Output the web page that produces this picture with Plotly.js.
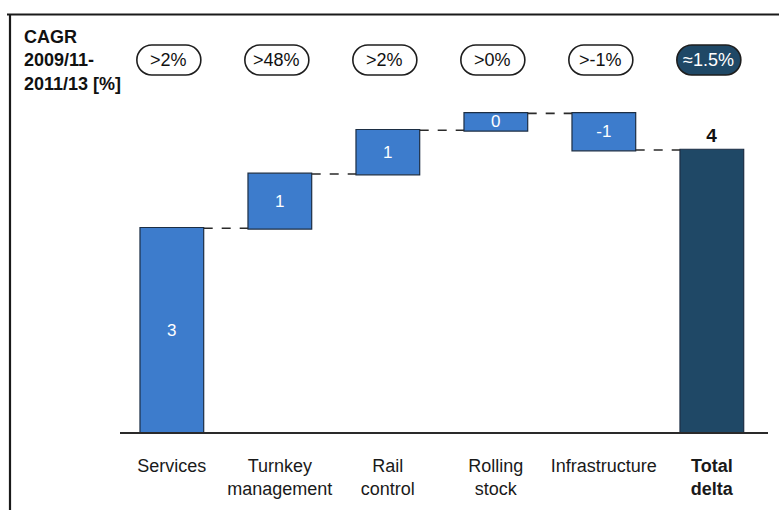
<!DOCTYPE html>
<html>
<head>
<meta charset="utf-8">
<script src="https://cdn.plot.ly/plotly-3.0.1.min.js"></script>
<style>html,body{margin:0;padding:0;background:#fff;}#chart{width:779px;height:510px;}</style>
</head>
<body>
<div id="chart"></div>
<script>
// ---- data ----
var categories = ["Services", "Turnkey<br>management", "Rail<br>control", "Rolling<br>stock", "Infrastructure", "<b>Total<br>delta</b>"];
var measures = ["relative", "relative", "relative", "relative", "relative", "total"];
var values = [2.89, 0.77, 0.62, 0.24, -0.52, 0];
var barLabels = ["3", "1", "1", "0", "-1", "4"];
var cagrLabels = [">2%", ">48%", ">2%", ">0%", ">-1%", "\u22481.5%"];
var cagrTitle = "<b>CAGR<br>2009/11-<br>2011/13 [%]</b>";

// ---- layout geometry ----
var W = 779, H = 510;
var M = {l: 120, r: 11, t: 100, b: 78};
var xRange = [-0.48, 5.52];
var yRange = [0, 4.71];
var plotW = W - M.l - M.r, plotH = H - M.t - M.b;
function pxX(px) { return (px - M.l) / plotW; }
function pxY(py) { return (H - M.b - py) / plotH; }
function catPaper(i) { return (i - xRange[0]) / (xRange[1] - xRange[0]); }

var FONT = "Liberation Sans Narrow, Arial Narrow, Liberation Sans, Arial, sans-serif";
var BLUE = "#3d7ccc", NAVY = "#1f4866", EDGE = "#1c2e44";

var trace = {
  type: "waterfall",
  x: categories,
  y: values,
  measure: measures,
  text: barLabels,
  textinfo: "text",
  textangle: 0,
  textposition: ["inside", "inside", "inside", "inside", "inside", "outside"],
  constraintext: "none",
  insidetextanchor: "middle",
  insidetextfont: {family: FONT, size: 17, color: "#ffffff"},
  outsidetextfont: {family: FONT, size: 19, color: "#111111", weight: "bold"},
  cliponaxis: false,
  increasing: {marker: {color: BLUE, line: {color: EDGE, width: 1.2}}},
  decreasing: {marker: {color: BLUE, line: {color: EDGE, width: 1.2}}},
  totals: {marker: {color: NAVY, line: {color: EDGE, width: 1.2}}},
  connector: {mode: "between", line: {color: "#2a2a2a", width: 1.6, dash: "dash"}},
  hoverinfo: "none"
};

// pill shapes (pixel sized, anchored above each bar)
function pillPath(w, h) {
  var r = h / 2, a = w / 2 - r, k = 0.5523 * r, hw = w / 2;
  return "M " + (-a) + "," + (-r) +
    " L " + a + "," + (-r) +
    " C " + (a + k) + "," + (-r) + " " + hw + "," + (-k) + " " + hw + ",0" +
    " C " + hw + "," + k + " " + (a + k) + "," + r + " " + a + "," + r +
    " L " + (-a) + "," + r +
    " C " + (-a - k) + "," + r + " " + (-hw) + "," + k + " " + (-hw) + ",0" +
    " C " + (-hw) + "," + (-k) + " " + (-a - k) + "," + (-r) + " " + (-a) + "," + (-r) + " Z";
}

var shapes = [];
var annotations = [];
var pillY = pxY(60);
cagrLabels.forEach(function (lab, i) {
  var last = (i === cagrLabels.length - 1);
  var cx = catPaper(i) - 3 / plotW;
  shapes.push({
    type: "path",
    xref: "paper", yref: "paper",
    xsizemode: "pixel", ysizemode: "pixel",
    xanchor: cx, yanchor: pillY,
    path: pillPath(64, 30),
    fillcolor: last ? NAVY : "#ffffff",
    line: {color: "#1e1e1e", width: 1.6},
    layer: "above"
  });
  annotations.push({
    xref: "paper", yref: "paper", x: cx, y: pillY,
    xanchor: "center", yanchor: "middle",
    text: lab, showarrow: false,
    font: {family: FONT, size: 18, color: last ? "#ffffff" : "#111111"}
  });
});

annotations.push({
  xref: "paper", yref: "paper", x: pxX(22), y: pxY(25),
  xanchor: "left", yanchor: "top", align: "left",
  text: cagrTitle, showarrow: false,
  font: {family: FONT, size: 18, color: "#111111"}
});

// frame lines (top and left)
shapes.push({type: "line", xref: "paper", yref: "paper", x0: pxX(7), x1: pxX(779), y0: pxY(14.5), y1: pxY(14.5), line: {color: "#1a1a1a", width: 2}});
shapes.push({type: "line", xref: "paper", yref: "paper", x0: pxX(10), x1: pxX(10), y0: pxY(14), y1: pxY(510), line: {color: "#1a1a1a", width: 2.2}});

var layout = {
  width: W, height: H,
  margin: M,
  paper_bgcolor: "#ffffff", plot_bgcolor: "#ffffff",
  showlegend: false,
  waterfallgap: 0.41,
  font: {family: FONT, size: 18, color: "#1a1a1a"},
  xaxis: {
    type: "category", range: xRange, fixedrange: true,
    showgrid: false, zeroline: false,
    showline: true, linecolor: "#2a2a2a", linewidth: 2,
    ticks: "outside", ticklen: 16, tickcolor: "rgba(0,0,0,0)",
    tickfont: {family: FONT, size: 18, color: "#1a1a1a"}
  },
  yaxis: {
    range: yRange, fixedrange: true, visible: false,
    showgrid: false, zeroline: false
  },
  shapes: shapes,
  annotations: annotations
};

Plotly.newPlot("chart", [trace], layout, {displayModeBar: false, staticPlot: true});
</script>
</body>
</html>
